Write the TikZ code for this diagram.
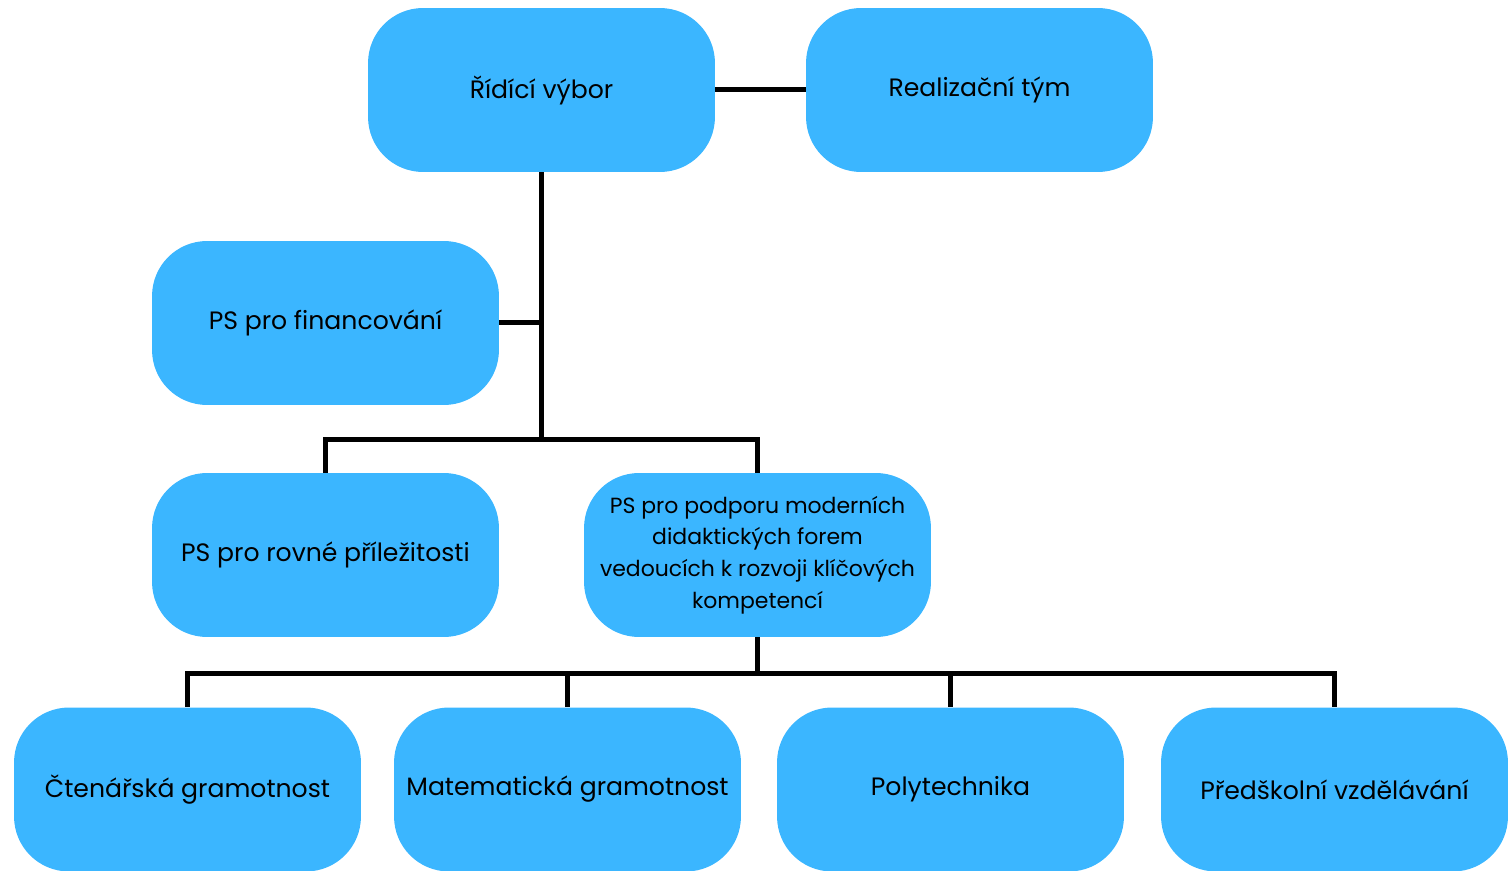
\documentclass[tikz,border=0pt]{standalone}
\usepackage{fontspec}
\setmainfont{Poppins}
\definecolor{boxblue}{RGB}{59,182,255}
\tikzset{
  box/.style={fill=boxblue,rounded corners=1.1cm,minimum width=6.94cm,minimum height=3.28cm,
    inner sep=0pt,align=center,font=\fontsize{14.3}{18}\selectfont},
  small/.style={font=\fontsize{12.5}{18}\selectfont},
  link/.style={draw=black,line width=0.1cm}
}
\begin{document}
\begin{tikzpicture}[x=0.02cm,y=-0.02cm]
\useasboundingbox (0,0) rectangle (1512,871);
\node[box] (ridici) at (541.5,90) {Řídící výbor};
\node[box] (realizace) at (979.5,90) {Realizační tým};
\node[box] (financovani) at (325.5,323) {PS pro financování};
\node[box] (rovne) at (325.5,555) {PS pro rovné příležitosti};
\node[box,small] (podpora) at (757.5,555) {PS pro podporu moderních\\didaktických forem\\vedoucích k rozvoji klíčových\\kompetencí};
\node[box] (ctenarska) at (187.5,789.5) {Čtenářská gramotnost};
\node[box] (matematicka) at (567.5,789.5) {Matematická gramotnost};
\node[box] (polytechnika) at (950.5,789.5) {Polytechnika};
\node[box] (predskolni) at (1334.5,789.5) {Předškolní vzdělávání};
\coordinate (uzel1) at (541.5,440);
\coordinate (uzel2) at (757.5,673);
% spojnice
\draw[link] (ridici) -- (realizace);
\draw[link] (ridici.south) -- (uzel1);
\draw[link] (financovani.east) -- (financovani.east -| uzel1);
\draw[link] (rovne.north) |- (uzel1) -| (podpora.north);
\draw[link] (podpora.south) -- (uzel2);
\foreach \n in {ctenarska,matematicka,polytechnika,predskolni}
  \draw[link] (uzel2) -| (\n.north);
\end{tikzpicture}
\end{document}
